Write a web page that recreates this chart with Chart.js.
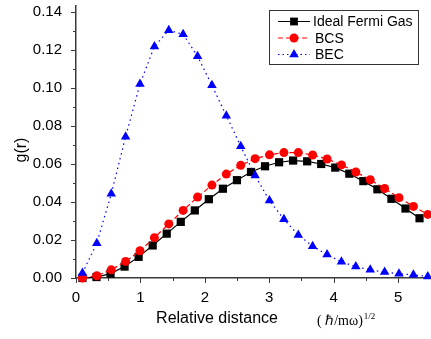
<!DOCTYPE html>
<html>
<head>
<meta charset="utf-8">
<script src="https://cdn.jsdelivr.net/npm/chart.js@4.4.1/dist/chart.umd.min.js"></script>
<style>
  html, body { margin: 0; padding: 0; background: #fff; }
  #wrap { width: 431px; height: 339px; position: relative; }
</style>
</head>
<body>
<div id="wrap"><canvas id="gChart"></canvas></div>
<script>
// series names as in the legend
const seriesNames = ['Ideal Fermi Gas', 'BCS', 'BEC'];

// Ideal Fermi gas sits on a slightly tighter r grid than the other two
const idealX = [0.1, 0.318, 0.536, 0.754, 0.972, 1.19, 1.408, 1.626, 1.844, 2.062, 2.28, 2.498, 2.716,
                2.934, 3.152, 3.37, 3.588, 3.806, 4.024, 4.242, 4.46, 4.678, 4.896, 5.114, 5.332];
const idealY = [0.0000, 0.0005, 0.0023, 0.0060, 0.0111, 0.0171, 0.0233, 0.0295, 0.0355, 0.0414, 0.0469, 0.0514, 0.0557,
                0.0587, 0.0608, 0.0617, 0.0613, 0.0599, 0.0580, 0.0548, 0.0509, 0.0466, 0.0416, 0.0365, 0.0314];

const pairX = [0.1, 0.323, 0.547, 0.77, 0.993, 1.217, 1.44, 1.663, 1.887, 2.11, 2.333, 2.557, 2.78,
               3.003, 3.227, 3.45, 3.673, 3.897, 4.12, 4.343, 4.567, 4.79, 5.013, 5.237, 5.46];
const bcsY = [0.0000, 0.0012, 0.0043, 0.0087, 0.0143, 0.0212, 0.0284, 0.0355, 0.0425, 0.0488, 0.0546, 0.0592, 0.0627,
              0.0647, 0.0659, 0.0659, 0.0646, 0.0625, 0.0594, 0.0557, 0.0516, 0.0470, 0.0422, 0.0376, 0.0334];
const becY = [0.0026, 0.0183, 0.0442, 0.0742, 0.1019, 0.1216, 0.1302, 0.1280, 0.1165, 0.1012, 0.0853, 0.0692, 0.0538,
              0.0407, 0.0308, 0.0226, 0.0167, 0.0123, 0.0085, 0.0060, 0.0043, 0.0031, 0.0022, 0.0017, 0.0008];

const xTicks = [0, 1, 2, 3, 4, 5];
const xMinorTicks = [0.5, 1.5, 2.5, 3.5, 4.5];
const yTicks = [0, 0.02, 0.04, 0.06, 0.08, 0.10, 0.12, 0.14];
const yMinorTicks = [0.01, 0.03, 0.05, 0.07, 0.09, 0.11, 0.13];

const xTitle = 'Relative distance';
const yTitle = 'g(r)';
const unitText = '( \u210F/m\u03C9)';
const unitSup = '1/2';

const sansFont = '"Liberation Sans", Arial, sans-serif';
const serifFont = '"Liberation Serif", "Times New Roman", serif';
const axisColor = '#3a3a3a';

Chart.defaults.font.family = sansFont;

function toPoints(xs, ys) {
    return xs.map(function(x, i) { return { x: x, y: ys[i] }; });
}

function drawMarker(ctx, style, x, y, r, color) {
    ctx.fillStyle = color;
    ctx.beginPath();
    if (style === 'rect') {
        const s = r * Math.SQRT1_2;
        ctx.rect(x - s, y - s, 2 * s, 2 * s);
    } else if (style === 'circle') {
        ctx.arc(x, y, r, 0, Math.PI * 2);
    } else {
        ctx.moveTo(x, y - r);
        ctx.lineTo(x + r * 0.866, y + r * 0.5);
        ctx.lineTo(x - r * 0.866, y + r * 0.5);
        ctx.closePath();
    }
    ctx.fill();
}

const legendRows = [
    { name: seriesNames[0], color: '#000000', dash: [], style: 'rect', r: 5.5, textX: 313 },
    { name: seriesNames[1], color: '#ff0000', dash: [5, 3], style: 'circle', r: 4.5, textX: 315 },
    { name: seriesNames[2], color: '#0000ff', dash: [1.5, 3], style: 'triangle', r: 5.5, textX: 315 }
];

// ticks, titles and the boxed legend
const decorPlugin = {
    id: 'decor',
    afterDraw(chart) {
        const ctx = chart.ctx;
        const xs = chart.scales.x;
        const ys = chart.scales.y;
        const area = chart.chartArea;

        ctx.save();
        ctx.strokeStyle = axisColor;
        ctx.lineWidth = 1;
        ctx.beginPath();
        xTicks.forEach(function(v) {
            const p = Math.round(xs.getPixelForValue(v)) + 0.5;
            ctx.moveTo(p, area.bottom); ctx.lineTo(p, area.bottom + 5);
        });
        xMinorTicks.forEach(function(v) {
            const p = Math.round(xs.getPixelForValue(v)) + 0.5;
            ctx.moveTo(p, area.bottom); ctx.lineTo(p, area.bottom + 3);
        });
        yTicks.forEach(function(v) {
            const p = Math.round(ys.getPixelForValue(v)) + 0.5;
            ctx.moveTo(area.left, p); ctx.lineTo(area.left - 5, p);
        });
        yMinorTicks.forEach(function(v) {
            const p = Math.round(ys.getPixelForValue(v)) + 0.5;
            ctx.moveTo(area.left, p); ctx.lineTo(area.left - 3, p);
        });
        ctx.stroke();

        // axis titles
        ctx.fillStyle = '#000';
        ctx.font = '16px ' + sansFont;
        ctx.textAlign = 'center';
        ctx.textBaseline = 'alphabetic';
        ctx.fillText(xTitle, 217, 323);
        ctx.save();
        ctx.translate(26, 150);
        ctx.rotate(-Math.PI / 2);
        ctx.fillText(yTitle, 0, 0);
        ctx.restore();

        // unit label
        ctx.textAlign = 'left';
        ctx.font = '14px ' + serifFont;
        ctx.fillText(unitText, 317, 325);
        const w = ctx.measureText(unitText).width;
        ctx.font = '9px ' + serifFont;
        ctx.fillText(unitSup, 317 + w + 1, 319);

        // legend box
        ctx.fillStyle = '#fff';
        ctx.fillRect(269.5, 10.5, 149, 54);
        ctx.strokeStyle = '#333';
        ctx.lineWidth = 1;
        ctx.strokeRect(269.5, 10.5, 149, 54);
        legendRows.forEach(function(row, i) {
            const y = 21.5 + i * 16.5;
            ctx.strokeStyle = row.color;
            ctx.setLineDash(row.dash);
            ctx.beginPath();
            ctx.moveTo(278, y); ctx.lineTo(310, y);
            ctx.stroke();
            ctx.setLineDash([]);
            drawMarker(ctx, row.style, 294, y, row.r, row.color);
            ctx.fillStyle = '#000';
            ctx.font = '14px ' + sansFont;
            ctx.textBaseline = 'middle';
            ctx.fillText(row.name, row.textX, y + 1);
        });
        ctx.restore();
    }
};

const ctx = document.getElementById('gChart').getContext('2d');
const gChart = new Chart(ctx, {
    type: 'scatter',
    data: {
        datasets: [
            {
                label: seriesNames[0],
                data: toPoints(idealX, idealY),
                showLine: true,
                borderColor: '#000000',
                backgroundColor: '#000000',
                borderWidth: 1.2,
                pointStyle: 'rect',
                pointRadius: 5.8,
                pointBorderWidth: 0,
                clip: false,
                order: 2
            },
            {
                label: seriesNames[1],
                data: toPoints(pairX, bcsY),
                showLine: true,
                borderColor: '#ff0000',
                backgroundColor: '#ff0000',
                borderWidth: 1.2,
                borderDash: [5, 3],
                pointStyle: 'circle',
                pointRadius: 4.5,
                pointBorderWidth: 0,
                clip: false,
                order: 1
            },
            {
                label: seriesNames[2],
                data: toPoints(pairX, becY),
                showLine: true,
                borderColor: '#0000ff',
                backgroundColor: '#0000ff',
                borderWidth: 1.2,
                borderDash: [1.5, 3.5],
                pointStyle: 'triangle',
                pointRadius: 5.5,
                pointBorderWidth: 0,
                clip: false,
                order: 0
            }
        ]
    },
    options: {
        responsive: true,
        maintainAspectRatio: false,
        animation: false,
        layout: { padding: 0 },
        plugins: {
            legend: { display: false },
            tooltip: { enabled: false }
        },
        scales: {
            x: {
                type: 'linear',
                min: 0,
                max: 5.42,
                afterBuildTicks: function(s) { s.ticks = xTicks.map(function(v) { return { value: v }; }); },
                afterFit: function(s) { s.height = 61; s.paddingLeft = 0; s.paddingRight = 0; },
                grid: { display: false },
                border: { display: true, color: axisColor, width: 1.5 },
                ticks: {
                    color: '#000',
                    font: { size: 15 },
                    padding: 3,
                    maxRotation: 0,
                    autoSkip: false,
                    callback: function(v) { return String(v); }
                }
            },
            y: {
                min: 0,
                max: 0.143,
                afterBuildTicks: function(s) { s.ticks = yTicks.map(function(v) { return { value: v }; }); },
                afterFit: function(s) { s.width = 76; s.paddingTop = 0; s.paddingBottom = 0; },
                grid: { display: false },
                border: { display: true, color: axisColor, width: 1.5 },
                ticks: {
                    color: '#000',
                    font: { size: 15 },
                    padding: 6,
                    autoSkip: false,
                    callback: function(v) { return v.toFixed(2); }
                }
            }
        }
    },
    plugins: [decorPlugin]
});
</script>
</body>
</html>
